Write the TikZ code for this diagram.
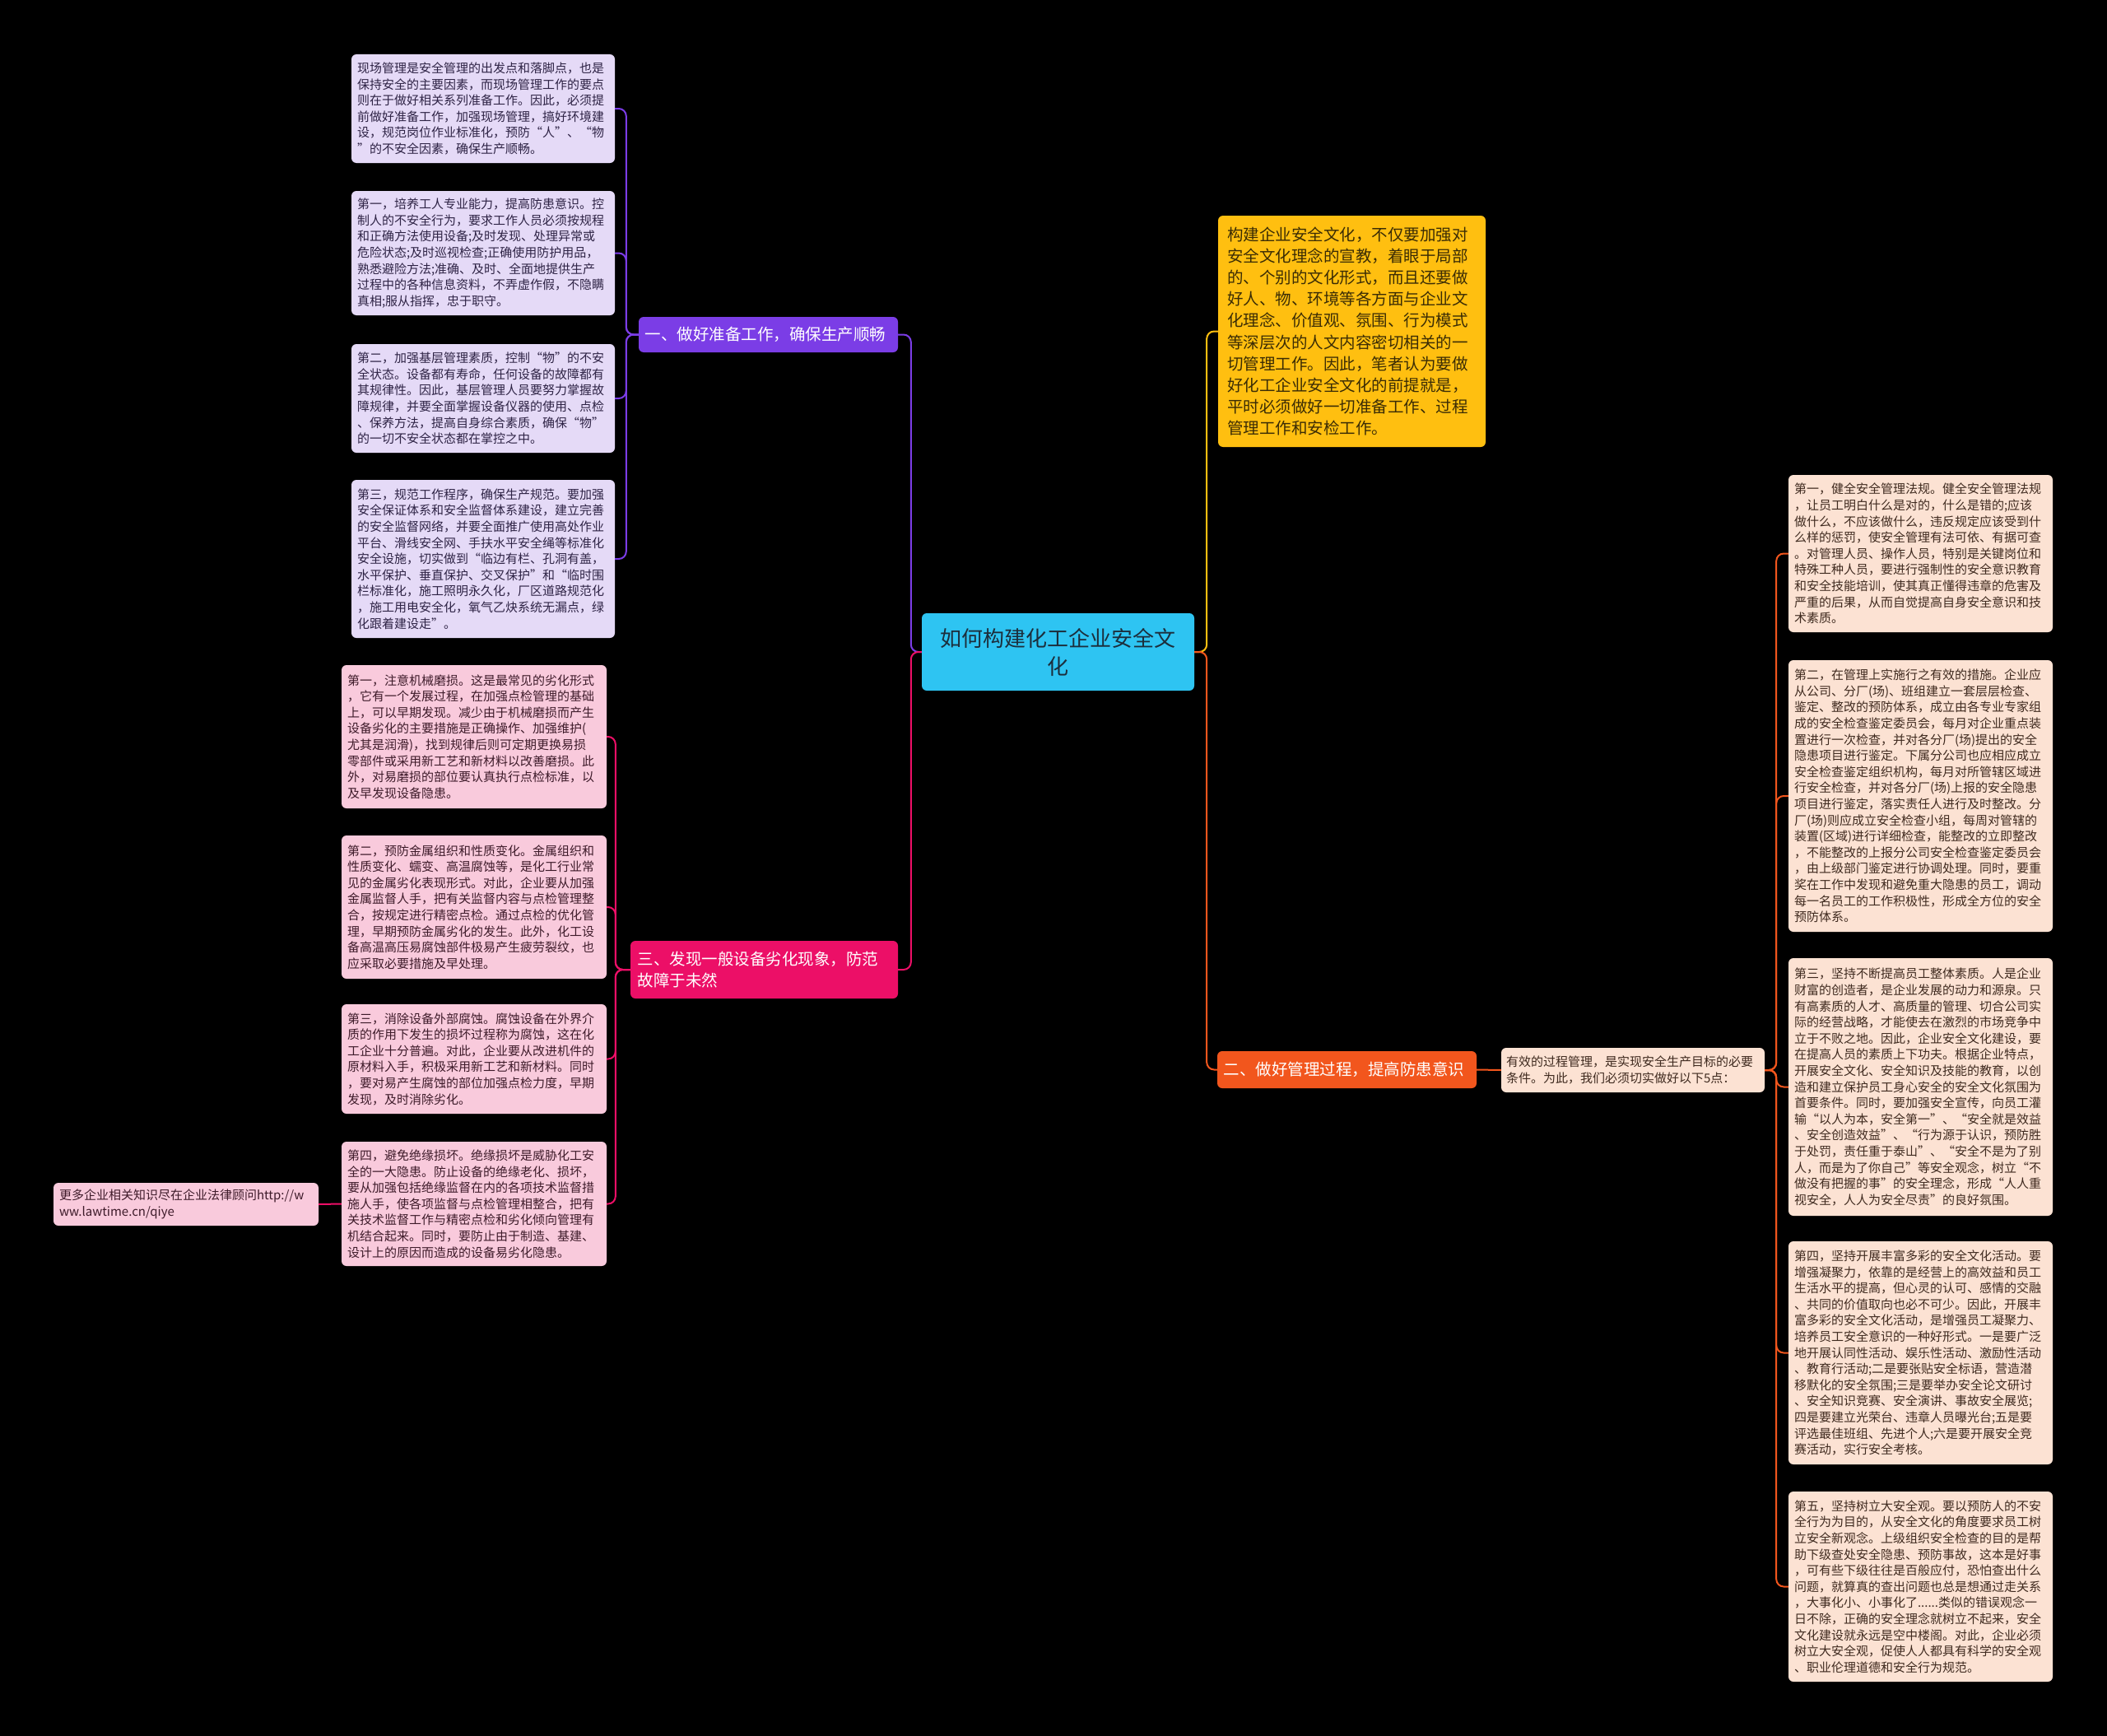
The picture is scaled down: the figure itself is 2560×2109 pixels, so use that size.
\documentclass[tikz,border=0pt]{standalone}
\usepackage{fontspec}
\setmainfont{Noto Sans CJK SC}
\usetikzlibrary{calc}
\definecolor{bgc}{HTML}{000000}
\definecolor{cyanc}{HTML}{2EC4F2}
\definecolor{centtext}{HTML}{1C2E3C}
\definecolor{yel}{HTML}{FFBF10}
\definecolor{yeltext}{HTML}{3A2C05}
\definecolor{purp}{HTML}{7B3DE6}
\definecolor{lav}{HTML}{E5DAF7}
\definecolor{lavtext}{HTML}{2E2345}
\definecolor{pinkc}{HTML}{EC0F67}
\definecolor{pinkl}{HTML}{F9CADC}
\definecolor{pinktext}{HTML}{3E1B2A}
\definecolor{oran}{HTML}{F2561D}
\definecolor{peach}{HTML}{FCE2D3}
\definecolor{peachtext}{HTML}{3F2A1F}
\tikzset{
  basebox/.style={rounded corners=6pt, inner sep=0pt, align=left, anchor=center},
  smallfont/.style={font=\fontsize{15}{19.6}\selectfont},
  lavbox/.style={basebox, smallfont, fill=lav, text=lavtext, minimum width=320pt, text width=306pt},
  pinkbox/.style={basebox, smallfont, fill=pinkl, text=pinktext, minimum width=322pt, text width=308pt},
  peachbox/.style={basebox, smallfont, fill=peach, text=peachtext, minimum width=321pt, text width=307pt},
  branchnode/.style={basebox, text=white, font=\fontsize{19.5}{26}\selectfont},
  plink/.style={draw=purp, line width=2pt, rounded corners=9pt},
  klink/.style={draw=pinkc, line width=2pt, rounded corners=9pt},
  ylink/.style={draw=yel, line width=2pt, rounded corners=9pt},
  olink/.style={draw=oran, line width=2pt, rounded corners=9pt},
}
\begin{document}
\begin{tikzpicture}[x=1pt,y=-1pt]
\fill[bgc] (0,0) rectangle (2560,2109);
\useasboundingbox (0,0) rectangle (2560,2109);

% central
\node[basebox, fill=cyanc, text=centtext, align=center, minimum width=331pt, minimum height=94pt, text width=320pt, font=\fontsize{26}{34}\selectfont] (c) at (1285.5,792) {如何构建化工企业安全文\\化};

% purple branch
\node[branchnode, fill=purp, minimum width=315pt, minimum height=43pt, text width=300pt] (p) at (933.5,406.5) {一、做好准备工作，确保生产顺畅};

\node[lavbox, minimum height=132pt] (L1) at (587,132) {现场管理是安全管理的出发点和落脚点，也是\\保持安全的主要因素，而现场管理工作的要点\\则在于做好相关系列准备工作。因此，必须提\\前做好准备工作，加强现场管理，搞好环境建\\设，规范岗位作业标准化，预防“人”、“物\\”的不安全因素，确保生产顺畅。};
\node[lavbox, minimum height=151pt] (L2) at (587,307.5) {第一，培养工人专业能力，提高防患意识。控\\制人的不安全行为，要求工作人员必须按规程\\和正确方法使用设备;及时发现、处理异常或\\危险状态;及时巡视检查;正确使用防护用品，\\熟悉避险方法;准确、及时、全面地提供生产\\过程中的各种信息资料，不弄虚作假，不隐瞒\\真相;服从指挥，忠于职守。};
\node[lavbox, minimum height=132pt] (L3) at (587,484) {第二，加强基层管理素质，控制“物”的不安\\全状态。设备都有寿命，任何设备的故障都有\\其规律性。因此，基层管理人员要努力掌握故\\障规律，并要全面掌握设备仪器的使用、点检\\、保养方法，提高自身综合素质，确保“物”\\的一切不安全状态都在掌控之中。};
\node[lavbox, minimum height=192pt] (L4) at (587,679) {第三，规范工作程序，确保生产规范。要加强\\安全保证体系和安全监督体系建设，建立完善\\的安全监督网络，并要全面推广使用高处作业\\平台、滑线安全网、手扶水平安全绳等标准化\\安全设施，切实做到“临边有栏、孔洞有盖，\\水平保护、垂直保护、交叉保护”和“临时围\\栏标准化，施工照明永久化，厂区道路规范化\\，施工用电安全化，氧气乙炔系统无漏点，绿\\化跟着建设走”。};

% pink branch
\node[branchnode, fill=pinkc, minimum width=325pt, minimum height=70pt, text width=308pt] (k) at (928.5,1178) {三、发现一般设备劣化现象，防范\\故障于未然};

\node[pinkbox, minimum height=174pt] (P1) at (576,895) {第一，注意机械磨损。这是最常见的劣化形式\\，它有一个发展过程，在加强点检管理的基础\\上，可以早期发现。减少由于机械磨损而产生\\设备劣化的主要措施是正确操作、加强维护(\\尤其是润滑)，找到规律后则可定期更换易损\\零部件或采用新工艺和新材料以改善磨损。此\\外，对易磨损的部位要认真执行点检标准，以\\及早发现设备隐患。};
\node[pinkbox, minimum height=174pt] (P2) at (576,1102) {第二，预防金属组织和性质变化。金属组织和\\性质变化、蠕变、高温腐蚀等，是化工行业常\\见的金属劣化表现形式。对此，企业要从加强\\金属监督人手，把有关监督内容与点检管理整\\合，按规定进行精密点检。通过点检的优化管\\理，早期预防金属劣化的发生。此外，化工设\\备高温高压易腐蚀部件极易产生疲劳裂纹，也\\应采取必要措施及早处理。};
\node[pinkbox, minimum height=133pt] (P3) at (576,1286.5) {第三，消除设备外部腐蚀。腐蚀设备在外界介\\质的作用下发生的损坏过程称为腐蚀，这在化\\工企业十分普遍。对此，企业要从改进机件的\\原材料入手，积极采用新工艺和新材料。同时\\，要对易产生腐蚀的部位加强点检力度，早期\\发现，及时消除劣化。};
\node[pinkbox, minimum height=151pt] (P4) at (576,1462.5) {第四，避免绝缘损坏。绝缘损坏是威胁化工安\\全的一大隐患。防止设备的绝缘老化、损坏，\\要从加强包括绝缘监督在内的各项技术监督措\\施人手，使各项监督与点检管理相整合，把有\\关技术监督工作与精密点检和劣化倾向管理有\\机结合起来。同时，要防止由于制造、基建、\\设计上的原因而造成的设备易劣化隐患。};
\node[pinkbox, minimum height=52pt] (m) at (226,1463) {更多企业相关知识尽在企业法律顾问http://w\\ww.lawtime.cn/qiye};

% yellow
\node[basebox, fill=yel, text=yeltext, minimum width=325pt, minimum height=281pt, text width=303pt, font=\fontsize{19.5}{26.1}\selectfont] (y) at (1642.5,402.5) {构建企业安全文化，不仅要加强对\\安全文化理念的宣教，着眼于局部\\的、个别的文化形式，而且还要做\\好人、物、环境等各方面与企业文\\化理念、价值观、氛围、行为模式\\等深层次的人文内容密切相关的一\\切管理工作。因此，笔者认为要做\\好化工企业安全文化的前提就是，\\平时必须做好一切准备工作、过程\\管理工作和安检工作。};

% orange branch
\node[branchnode, fill=oran, minimum width=315pt, minimum height=45pt, text width=300pt] (o) at (1636.5,1299.5) {二、做好管理过程，提高防患意识};
\node[basebox, fill=peach, text=peachtext, minimum width=320pt, minimum height=54pt, text width=308pt, font=\fontsize{15}{20}\selectfont] (e) at (1984,1300) {有效的过程管理，是实现安全生产目标的必要\\条件。为此，我们必须切实做好以下5点：};

\node[peachbox, minimum height=191pt] (R1) at (2333.5,672.5) {第一，健全安全管理法规。健全安全管理法规\\，让员工明白什么是对的，什么是错的;应该\\做什么，不应该做什么，违反规定应该受到什\\么样的惩罚，使安全管理有法可依、有据可查\\。对管理人员、操作人员，特别是关键岗位和\\特殊工种人员，要进行强制性的安全意识教育\\和安全技能培训，使其真正懂得违章的危害及\\严重的后果，从而自觉提高自身安全意识和技\\术素质。};
\node[peachbox, minimum height=330pt] (R2) at (2333.5,967) {第二，在管理上实施行之有效的措施。企业应\\从公司、分厂(场)、班组建立一套层层检查、\\鉴定、整改的预防体系，成立由各专业专家组\\成的安全检查鉴定委员会，每月对企业重点装\\置进行一次检查，并对各分厂(场)提出的安全\\隐患项目进行鉴定。下属分公司也应相应成立\\安全检查鉴定组织机构，每月对所管辖区域进\\行安全检查，并对各分厂(场)上报的安全隐患\\项目进行鉴定，落实责任人进行及时整改。分\\厂(场)则应成立安全检查小组，每周对管辖的\\装置(区域)进行详细检查，能整改的立即整改\\，不能整改的上报分公司安全检查鉴定委员会\\，由上级部门鉴定进行协调处理。同时，要重\\奖在工作中发现和避免重大隐患的员工，调动\\每一名员工的工作积极性，形成全方位的安全\\预防体系。};
\node[peachbox, minimum height=313pt] (R3) at (2333.5,1320.5) {第三，坚持不断提高员工整体素质。人是企业\\财富的创造者，是企业发展的动力和源泉。只\\有高素质的人才、高质量的管理、切合公司实\\际的经营战略，才能使去在激烈的市场竞争中\\立于不败之地。因此，企业安全文化建设，要\\在提高人员的素质上下功夫。根据企业特点，\\开展安全文化、安全知识及技能的教育，以创\\造和建立保护员工身心安全的安全文化氛围为\\首要条件。同时，要加强安全宣传，向员工灌\\输“以人为本，安全第一”、“安全就是效益\\、安全创造效益”、“行为源于认识，预防胜\\于处罚，责任重于泰山”、“安全不是为了别\\人，而是为了你自己”等安全观念，树立“不\\做没有把握的事”的安全理念，形成“人人重\\视安全，人人为安全尽责”的良好氛围。};
\node[peachbox, minimum height=271pt] (R4) at (2333.5,1643.5) {第四，坚持开展丰富多彩的安全文化活动。要\\增强凝聚力，依靠的是经营上的高效益和员工\\生活水平的提高，但心灵的认可、感情的交融\\、共同的价值取向也必不可少。因此，开展丰\\富多彩的安全文化活动，是增强员工凝聚力、\\培养员工安全意识的一种好形式。一是要广泛\\地开展认同性活动、娱乐性活动、激励性活动\\、教育行活动;二是要张贴安全标语，营造潜\\移默化的安全氛围;三是要举办安全论文研讨\\、安全知识竞赛、安全演讲、事故安全展览;\\四是要建立光荣台、违章人员曝光台;五是要\\评选最佳班组、先进个人;六是要开展安全竞\\赛活动，实行安全考核。};
\node[peachbox, minimum height=231pt] (R5) at (2333.5,1927.5) {第五，坚持树立大安全观。要以预防人的不安\\全行为为目的，从安全文化的角度要求员工树\\立安全新观念。上级组织安全检查的目的是帮\\助下级查处安全隐患、预防事故，这本是好事\\，可有些下级往往是百般应付，恐怕查出什么\\问题，就算真的查出问题也总是想通过走关系\\，大事化小、小事化了......类似的错误观念一\\日不除，正确的安全理念就树立不起来，安全\\文化建设就永远是空中楼阁。对此，企业必须\\树立大安全观，促使人人都具有科学的安全观\\、职业伦理道德和安全行为规范。};

% connectors
\draw[plink] (c.west) -- ++(-13,0) |- (p.east);
\draw[klink] (c.west) -- ++(-13,0) |- (k.east);
\draw[ylink] (c.east) -- ++(15,0) |- (y.west);
\draw[olink] (c.east) -- ++(15,0) |- (o.west);
\foreach \b in {L1,L2,L3,L4} \draw[plink] (p.west) -- ++(-15,0) |- (\b.east);
\foreach \b in {P1,P2,P3,P4} \draw[klink] (k.west) -- ++(-18,0) |- (\b.east);
\draw[klink] (P4.west) -- (m.east);
\draw[olink] (o.east) -- (e.west);
\foreach \b in {R1,R2,R3,R4,R5} \draw[olink] (e.east) -- ++(14,0) |- (\b.west);
\end{tikzpicture}
\end{document}
